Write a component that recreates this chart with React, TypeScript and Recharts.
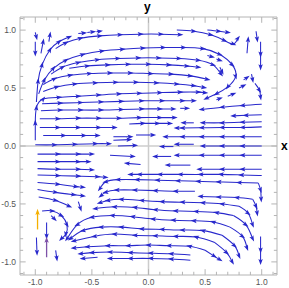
import { ScatterChart, Scatter, XAxis, YAxis, ReferenceLine } from "recharts";

type Pt = [number, number];

const xDomain: [number, number] = [-1.135, 1.135];
const yDomain: [number, number] = [-1.113, 1.113];
const majorTicks = [-1, -0.5, 0, 0.5, 1];
const minorTicks = [
  -1.1, -0.9, -0.8, -0.7, -0.6, -0.4, -0.3, -0.2, -0.1,
  0.1, 0.2, 0.3, 0.4, 0.6, 0.7, 0.8, 0.9, 1.1,
];

// small pieces in the top-left corner
const cornerStreams: Pt[][] = [
  [[-1.0, 0.98], [-0.99, 0.94]],
  [[-1.0, 0.9], [-1.0, 0.8]],
  [[-0.95, 0.8], [-0.93, 0.9]],
  [[-0.88, 0.9], [-0.87, 0.96]],
  [[-0.62, 0.97], [-0.57, 0.975]],
  [[-0.54, 0.98], [-0.49, 0.985]],
  [[-0.46, 0.985], [-0.43, 0.99]],
];

// upper half, flowing right
const upperStreams: Pt[][] = [
  [[-0.99, 0.38], [-0.975, 0.56], [-0.94, 0.7], [-0.87, 0.83], [-0.79, 0.9], [-0.7, 0.94]],
  [[-0.82, 0.84], [-0.73, 0.89], [-0.6, 0.93], [-0.43, 0.95], [-0.25, 0.96], [-0.07, 0.965], [0.11, 0.965], [0.28, 0.96]],
  [[-0.97, 0.45], [-0.92, 0.57], [-0.84, 0.67], [-0.73, 0.74], [-0.58, 0.79], [-0.41, 0.82], [-0.23, 0.835], [-0.05, 0.845], [0.13, 0.85], [0.31, 0.85], [0.48, 0.84], [0.63, 0.79], [0.74, 0.7], [0.77, 0.6], [0.7, 0.51], [0.6, 0.45], [0.51, 0.41]],
  [[-0.86, 0.62], [-0.76, 0.68], [-0.62, 0.72], [-0.45, 0.745], [-0.27, 0.755], [-0.09, 0.76], [0.09, 0.76], [0.27, 0.755], [0.44, 0.74], [0.57, 0.7], [0.64, 0.62]],
  [[-0.7, 0.67], [-0.54, 0.69], [-0.36, 0.7], [-0.18, 0.705], [0.0, 0.705], [0.18, 0.7], [0.34, 0.69], [0.44, 0.68]],
  [[-0.93, 0.53], [-0.83, 0.58], [-0.69, 0.61], [-0.52, 0.625], [-0.34, 0.63], [-0.16, 0.63], [0.02, 0.625], [0.2, 0.62], [0.37, 0.605], [0.52, 0.575]],
  [[-0.93, 0.47], [-0.81, 0.51], [-0.65, 0.535], [-0.47, 0.545], [-0.29, 0.55], [-0.11, 0.55], [0.07, 0.545], [0.25, 0.535], [0.4, 0.52], [0.49, 0.505]],
  [[-1.0, 0.05], [-1.0, 0.2], [-0.99, 0.33], [-0.93, 0.405], [-0.79, 0.42], [-0.62, 0.43], [-0.44, 0.44], [-0.26, 0.45], [-0.08, 0.455], [0.1, 0.46], [0.28, 0.465], [0.44, 0.465], [0.5, 0.46]],
  [[-0.94, 0.365], [-0.78, 0.37], [-0.6, 0.375], [-0.42, 0.38], [-0.24, 0.385], [-0.06, 0.39], [0.12, 0.39], [0.3, 0.39], [0.4, 0.39]],
  [[-0.95, 0.305], [-0.78, 0.31], [-0.6, 0.31], [-0.42, 0.31], [-0.24, 0.315], [-0.06, 0.32], [0.1, 0.32], [0.22, 0.32]],
  [[0.28, 0.325], [0.34, 0.325]],
  [[-0.96, 0.235], [-0.8, 0.235], [-0.62, 0.24], [-0.44, 0.24], [-0.26, 0.24], [-0.08, 0.245], [0.1, 0.245], [0.23, 0.245]],
  [[-0.96, 0.16], [-0.8, 0.16], [-0.62, 0.16], [-0.44, 0.16], [-0.3, 0.16]],
  [[-0.17, 0.19], [-0.05, 0.195], [0.08, 0.195], [0.19, 0.195]],
  [[-0.93, 0.09], [-0.75, 0.09], [-0.57, 0.09], [-0.45, 0.09]],
  [[-0.31, 0.08], [-0.16, 0.08]],
  [[-0.11, 0.095], [0.04, 0.095]],
  [[-1.0, 0.01], [-0.83, 0.01], [-0.65, 0.015], [-0.47, 0.02], [-0.35, 0.02]],
  [[-0.31, 0.05], [-0.17, 0.055]],
  [[-0.27, 0.0], [-0.12, 0.005]],
];

// upper right, flowing left
const returnStreams: Pt[][] = [
  [[1.0, 0.36], [0.83, 0.35], [0.65, 0.335], [0.47, 0.315]],
  [[1.0, 0.27], [0.86, 0.265], [0.75, 0.26]],
  [[1.0, 0.21], [0.83, 0.205], [0.65, 0.2], [0.48, 0.2]],
  [[0.4, 0.2], [0.31, 0.2]],
  [[1.0, 0.165], [0.83, 0.16], [0.65, 0.16], [0.47, 0.158], [0.3, 0.155], [0.25, 0.155]],
  [[1.0, 0.08], [0.83, 0.08], [0.65, 0.08], [0.47, 0.08], [0.3, 0.08], [0.15, 0.08]],
  [[1.0, 0.0], [0.83, 0.0], [0.65, 0.0], [0.48, 0.0]],
  [[0.4, 0.015], [0.25, 0.015]],
  [[0.22, -0.005], [0.12, -0.005]],
];

// eddy in the upper right
const eddyStreams: Pt[][] = [
  [[0.25, 1.0], [0.4, 0.99], [0.55, 0.96], [0.67, 0.91], [0.75, 0.88], [0.79, 0.93]],
  [[0.52, 1.0], [0.62, 0.99], [0.7, 0.98]],
  [[0.87, 0.8], [0.88, 0.92]],
  [[0.95, 0.99], [0.96, 0.92]],
  [[0.99, 0.9], [0.99, 0.79], [0.99, 0.68]],
  [[0.91, 0.62], [0.92, 0.57]],
  [[0.94, 0.54], [0.98, 0.48], [0.99, 0.42]],
  [[0.6, 0.4], [0.63, 0.41]],
  [[0.7, 0.43], [0.75, 0.45]],
  [[0.8, 0.5], [0.84, 0.52]],
  [[0.84, 0.57], [0.87, 0.59]],
  [[0.52, 0.78], [0.56, 0.77]],
  [[0.6, 0.75], [0.63, 0.74]],
  [[0.63, 0.68], [0.65, 0.64]],
];

// lower left, flowing right
const lowerLeftStreams: Pt[][] = [
  [[-0.98, -0.07], [-0.8, -0.07], [-0.62, -0.07], [-0.5, -0.07]],
  [[-0.34, -0.08], [-0.14, -0.09]],
  [[-0.98, -0.135], [-0.8, -0.135], [-0.62, -0.135], [-0.53, -0.135]],
  [[-0.98, -0.195], [-0.8, -0.2], [-0.62, -0.2], [-0.5, -0.205]],
  [[-0.98, -0.25], [-0.8, -0.255], [-0.62, -0.26], [-0.45, -0.265], [-0.38, -0.27]],
  [[-0.98, -0.315], [-0.8, -0.33], [-0.64, -0.35], [-0.58, -0.355]],
  [[-0.98, -0.375], [-0.82, -0.4], [-0.66, -0.42], [-0.58, -0.43]],
  [[-0.97, -0.44], [-0.82, -0.47], [-0.7, -0.52]],
  [[-0.94, -0.56], [-0.85, -0.56], [-0.77, -0.6], [-0.72, -0.68], [-0.73, -0.76], [-0.77, -0.8]],
  [[-0.62, -0.48], [-0.6, -0.54]],
  [[-0.86, -0.6], [-0.83, -0.63]],
  [[-0.9, -0.66], [-0.9, -0.78]],
  [[-0.82, -0.9], [-0.81, -0.97]],
  [[-0.99, -0.79], [-0.985, -0.92]],
];

// lower half, flowing left and into the sink near (-0.75, -0.8)
const lowerStreams: Pt[][] = [
  [[1.0, -0.2], [0.83, -0.2], [0.65, -0.2], [0.45, -0.2]],
  [[0.37, -0.165], [0.17, -0.165]],
  [[-0.07, -0.16], [-0.19, -0.15]],
  [[1.0, -0.08], [0.83, -0.08], [0.65, -0.08], [0.47, -0.08], [0.25, -0.08]],
  [[0.2, -0.09], [0.06, -0.09]],
  [[1.0, -0.255], [0.82, -0.25], [0.64, -0.245], [0.46, -0.245], [0.28, -0.245], [0.1, -0.245], [-0.08, -0.245], [-0.16, -0.245]],
  [[0.97, -0.32], [0.8, -0.315], [0.62, -0.31], [0.44, -0.305], [0.26, -0.3], [0.08, -0.295], [-0.1, -0.29], [-0.27, -0.29], [-0.38, -0.31], [-0.43, -0.37]],
  [[0.41, -0.39], [0.24, -0.39], [0.06, -0.385], [-0.12, -0.38], [-0.28, -0.38], [-0.38, -0.4], [-0.42, -0.43]],
  [[0.92, -0.46], [0.78, -0.445], [0.62, -0.44], [0.46, -0.435]],
  [[0.8, -0.52], [0.65, -0.5], [0.48, -0.49], [0.3, -0.485], [0.12, -0.48], [-0.06, -0.47], [-0.24, -0.46], [-0.36, -0.47], [-0.43, -0.49]],
  [[0.75, -0.6], [0.6, -0.575], [0.42, -0.565], [0.24, -0.56], [0.06, -0.55], [-0.12, -0.53], [-0.3, -0.525], [-0.47, -0.54]],
  [[0.72, -0.7], [0.57, -0.655], [0.4, -0.645], [0.22, -0.64], [0.04, -0.63], [-0.14, -0.61], [-0.32, -0.6], [-0.5, -0.615], [-0.63, -0.68], [-0.72, -0.8]],
  [[0.65, -0.77], [0.48, -0.73], [0.3, -0.725], [0.12, -0.72], [-0.06, -0.715], [-0.24, -0.7], [-0.42, -0.7], [-0.58, -0.73], [-0.69, -0.8]],
  [[0.58, -0.83], [0.42, -0.785], [0.24, -0.78], [0.06, -0.775], [-0.12, -0.77], [-0.3, -0.76], [-0.48, -0.78], [-0.66, -0.82]],
  [[0.5, -0.9], [0.36, -0.865], [0.18, -0.86], [0.0, -0.855], [-0.18, -0.86], [-0.36, -0.86], [-0.54, -0.87], [-0.66, -0.88]],
  [[0.37, -0.94], [0.2, -0.93], [0.02, -0.925], [-0.16, -0.92], [-0.34, -0.915], [-0.5, -0.92], [-0.6, -0.93]],
  [[0.37, -0.985], [0.2, -0.975], [0.02, -0.97], [-0.16, -0.97], [-0.34, -0.97]],
  [[-0.45, -0.96], [-0.58, -0.97]],
];

// bends down along the right edge
const dropStreams: Pt[][] = [
  [[0.97, -0.32], [0.99, -0.38], [0.995, -0.46]],
  [[0.92, -0.46], [0.95, -0.52], [0.96, -0.58]],
  [[0.8, -0.52], [0.88, -0.58], [0.92, -0.68]],
  [[0.75, -0.6], [0.86, -0.68], [0.92, -0.8]],
  [[0.72, -0.7], [0.83, -0.78], [0.87, -0.88]],
  [[0.65, -0.77], [0.76, -0.86], [0.8, -0.95]],
  [[0.58, -0.83], [0.69, -0.92], [0.74, -1.0]],
  [[0.5, -0.9], [0.58, -0.95], [0.63, -0.98]],
  [[0.99, -0.78], [0.99, -0.9], [0.99, -1.0]],
];

const orangeStream: Pt[] = [[-0.98, -0.72], [-0.98, -0.57]];
const purpleStream: Pt[] = [[-0.9, -0.96], [-0.9, -0.81]];

const BLUE = "#2828cc";
const ORANGE = "#f5b000";
const PURPLE = "#7e52a8";
const FRAME = "#b4b4b4";

// pixels per unit, used to turn data steps into screen angles
const XS = 257 / (xDomain[1] - xDomain[0]);
const YS = 258 / (yDomain[1] - yDomain[0]);

function toTable(pts: Pt[]) {
  return pts.map(([x, y], i) => {
    const [px, py] = i > 0 ? pts[i - 1] : pts[0];
    const a = (Math.atan2(-(y - py) * YS, (x - px) * XS) * 180) / Math.PI;
    return { x, y, a, head: i > 0 };
  });
}

function makeArrow(color: string) {
  return (props: any) => {
    const { cx, cy, payload } = props;
    if (!payload || !payload.head || cx == null) return <g />;
    return (
      <polygon
        points="3.2,0 -2.9,-2.2 -1.6,0 -2.9,2.2"
        transform={`translate(${cx},${cy}) rotate(${payload.a})`}
        fill={color}
      />
    );
  };
}

const blueArrow = makeArrow(BLUE);

const XTick = (props: any) => {
  const { x, y, payload } = props;
  return (
    <text x={x} y={y + 8} textAnchor="middle" fontSize={8.5} fill="#555" fontFamily="Liberation Sans, Arial, sans-serif">
      {payload.value.toFixed(1)}
    </text>
  );
};

const YTick = (props: any) => {
  const { x, y, payload } = props;
  return (
    <text x={x - 2} y={y + 3} textAnchor="end" fontSize={8.5} fill="#555" fontFamily="Liberation Sans, Arial, sans-serif">
      {payload.value.toFixed(1)}
    </text>
  );
};

export default function App() {
  const blueLines = [
    ...cornerStreams,
    ...upperStreams,
    ...returnStreams,
    ...eddyStreams,
    ...lowerLeftStreams,
    ...lowerStreams,
    ...dropStreams,
  ];
  const [x0, x1] = xDomain;
  const [y0, y1] = yDomain;

  return (
    <div style={{ position: "absolute", left: 0, top: 0, width: 289, height: 288 }}>
      <ScatterChart width={289} height={288} margin={{ top: 17, right: 12, bottom: 0, left: 0 }}>
        <XAxis
          type="number"
          dataKey="x"
          domain={xDomain}
          ticks={majorTicks}
          tick={<XTick />}
          tickLine={false}
          axisLine={false}
          tickSize={0}
          height={13}
          allowDataOverflow
        />
        <YAxis
          type="number"
          dataKey="y"
          domain={yDomain}
          ticks={majorTicks}
          tick={<YTick />}
          tickLine={false}
          axisLine={false}
          tickSize={0}
          width={20}
          allowDataOverflow
        />

        <ReferenceLine x={0} stroke="#cccccc" strokeWidth={1.5} />
        <ReferenceLine y={0} stroke="#cccccc" strokeWidth={1.5} />

        <ReferenceLine x={x0} stroke={FRAME} ifOverflow="visible" />
        <ReferenceLine x={x1} stroke={FRAME} ifOverflow="visible" />
        <ReferenceLine y={y0} stroke={FRAME} ifOverflow="visible" />
        <ReferenceLine y={y1} stroke={FRAME} ifOverflow="visible" />

        {[...majorTicks, ...minorTicks].map((t) => {
          const major = majorTicks.includes(t);
          const lx = major ? 0.05 : 0.028;
          const ly = major ? 0.05 : 0.028;
          return [
            <ReferenceLine key={`b${t}`} segment={[{ x: t, y: y0 }, { x: t, y: y0 + ly }]} stroke={FRAME} ifOverflow="visible" />,
            <ReferenceLine key={`t${t}`} segment={[{ x: t, y: y1 }, { x: t, y: y1 - ly }]} stroke={FRAME} ifOverflow="visible" />,
            <ReferenceLine key={`l${t}`} segment={[{ x: x0, y: t }, { x: x0 + lx, y: t }]} stroke={FRAME} ifOverflow="visible" />,
            <ReferenceLine key={`r${t}`} segment={[{ x: x1, y: t }, { x: x1 - lx, y: t }]} stroke={FRAME} ifOverflow="visible" />,
          ];
        })}

        {blueLines.map((pts, i) => (
          <Scatter
            key={i}
            data={toTable(pts)}
            line={{ stroke: BLUE, strokeWidth: 1.05 }}
            lineJointType="natural"
            shape={blueArrow}
            fill={BLUE}
            isAnimationActive={false}
          />
        ))}
        <Scatter
          data={toTable(orangeStream)}
          line={{ stroke: ORANGE, strokeWidth: 1.3 }}
          shape={makeArrow(ORANGE)}
          fill={ORANGE}
          isAnimationActive={false}
        />
        <Scatter
          data={toTable(purpleStream)}
          line={{ stroke: PURPLE, strokeWidth: 1.3 }}
          shape={makeArrow(PURPLE)}
          fill={PURPLE}
          isAnimationActive={false}
        />
      </ScatterChart>
      <span style={{ position: "absolute", left: 144, top: 0, fontFamily: "Liberation Sans, Arial, sans-serif", fontWeight: "bold", fontSize: 12 }}>
        y
      </span>
      <span style={{ position: "absolute", left: 281, top: 139, fontFamily: "Liberation Sans, Arial, sans-serif", fontWeight: "bold", fontSize: 12 }}>
        x
      </span>
    </div>
  );
}
